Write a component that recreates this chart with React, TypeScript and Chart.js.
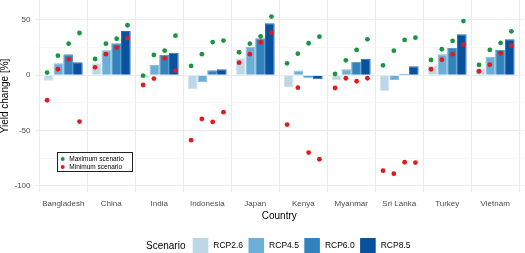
import React, { useEffect, useRef } from "react";
import { Chart, registerables } from "chart.js";

Chart.register(...registerables);

const countries = ["Bangladesh", "China", "India", "Indonesia", "Japan", "Kenya", "Myanmar", "Sri Lanka", "Turkey", "Vietnam"];
const scenarios = ["RCP2.6", "RCP4.5", "RCP6.0", "RCP8.5"];
const yTicks = [-100, -75, -50, -25, 0, 25, 50];

// mean yield change per scenario (bars)
const rcp26 = [-5, 10.8, -2.7, -12.6, 15.3, -10.6, -4.2, -14.2, 8.4, 6];
const rcp45 = [10.8, 22.6, 9.3, -6.3, 25.6, 4.2, 5.4, -4.2, 19, 16.8];
const rcp60 = [19, 28.9, 18.3, 4.5, 33.4, -2.2, 12.3, 1.2, 24.7, 22.9];
const rcp85 = [11.7, 40, 20.4, 5.4, 47, -3.6, 15, 8.1, 37, 32.5];

// maximum scenario per RCP
const max26 = [2.4, 14.7, -0.3, 8.4, 20.8, 10.8, 1.2, 9, 13.8, 9.3];
const max45 = [17.7, 28.5, 18.3, 19, 28.5, 19.5, 13.5, 22.2, 23.5, 22.9];
const max60 = [28.5, 33, 22.2, 30, 35.2, 28.9, 22.9, 31.9, 31, 29.2];
const max85 = [38.2, 45.2, 35.8, 31.3, 53, 34.9, 32.5, 34, 49, 39.7];

// minimum scenario per RCP
const min26 = [-22.6, 7.2, -8.8, -58.7, 11.4, -44.6, -11.5, -86.2, 5.4, 3.6];
const min45 = [5.4, 19, -3, -39.5, 19, -11.2, -2.7, -88.9, 14.1, 9.6];
const min60 = [14.4, 25, 15.3, -42.2, 29.8, -69.9, -5.4, -78.6, 19, 19.9];
const min85 = [-41.9, 33.4, 4.2, -33.4, 38.5, -75.9, -2.7, -78.9, 27.6, 26.7];

const barValues = [rcp26, rcp45, rcp60, rcp85];
const maxValues = [max26, max45, max60, max85];
const minValues = [min26, min45, min60, min85];

const barColors = ["#BDD7E7", "#6BAED6", "#3182BD", "#08519C"];
const barBorders = ["#cfe2ee", "#86bde0", "#5598cb", "#2f6eae"];
const maxColor = "#1a9641";
const minColor = "#e31a1c";
const pointLegend = ["Maximum scenario", "Minimum scenario"];

const FONT = "'Liberation Sans', Arial, sans-serif";

export default function App() {
  const ref = useRef<HTMLCanvasElement | null>(null);

  useEffect(() => {
    if (!ref.current) return;
    const dodge = 0.225;
    const pts = (vals: number[][]) =>
      vals.flatMap((arr, k) => arr.map((v, i) => ({ x: i + (k - 1.5) * dodge, y: v })));

    const decorations = {
      id: "decorations",
      afterDraw(chart: any) {
        const c = chart.ctx;
        const area = chart.chartArea;
        c.save();
        c.fillStyle = "#000";
        c.font = `10px ${FONT}`;
        c.textAlign = "center";
        c.textBaseline = "middle";
        c.save();
        c.translate(5.5, (area.top + area.bottom) / 2);
        c.rotate(-Math.PI / 2);
        c.fillText("Yield change [%]", 0, 0);
        c.restore();
        c.fillText("Country", (area.left + area.right) / 2, 216);
        c.textAlign = "left";
        c.fillText("Scenario", 146, 246);
        c.font = `8.5px ${FONT}`;
        scenarios.forEach((s, k) => {
          const x0 = 192.7 + k * 55.8;
          c.fillStyle = barColors[k];
          c.fillRect(x0, 238, 15.6, 15.6);
          c.fillStyle = "#000";
          c.fillText(s, x0 + 20.6, 246);
        });
        c.fillStyle = "#fff";
        c.fillRect(57.5, 152.5, 75, 19);
        c.strokeStyle = "#222";
        c.lineWidth = 1;
        c.strokeRect(57.5, 152.5, 75, 19);
        c.font = `6.5px ${FONT}`;
        [maxColor, minColor].forEach((col, j) => {
          const yy = 159 + j * 8;
          c.fillStyle = col;
          c.beginPath();
          c.arc(62.7, yy, 2, 0, Math.PI * 2);
          c.fill();
          c.fillStyle = "#000";
          c.fillText(pointLegend[j], 69.3, yy + 0.5);
        });
        c.restore();
      },
    };

    const chart = new Chart(ref.current, {
      type: "bar",
      data: {
        datasets: [
          ...barValues.map((arr, k) => ({
            type: "bar" as const,
            label: scenarios[k],
            data: arr.map((v, i) => ({ x: i, y: v })),
            backgroundColor: barColors[k],
            borderColor: barBorders[k],
            borderWidth: 1,
            categoryPercentage: 0.81,
            barPercentage: 1,
            order: 2,
          })),
          {
            type: "scatter" as const,
            label: pointLegend[1],
            data: pts(minValues),
            backgroundColor: minColor,
            borderWidth: 0,
            pointRadius: 2.4,
            order: 1,
          },
          {
            type: "scatter" as const,
            label: pointLegend[0],
            data: pts(maxValues),
            backgroundColor: maxColor,
            borderWidth: 0,
            pointRadius: 2.4,
            order: 0,
          },
        ] as any,
      },
      options: {
        animation: false,
        responsive: false,
        layout: { autoPadding: false, padding: { top: 0, right: 1, bottom: 38, left: 0 } },
        plugins: { legend: { display: false }, tooltip: { enabled: false } },
        scales: {
          x: {
            type: "linear",
            min: -0.6,
            max: 9.6,
            offset: false,
            afterBuildTicks: (scale: any) => {
              scale.ticks = countries.map((_, i) => ({ value: i }));
            },
            afterFit: (scale: any) => {
              scale.height = 23;
              scale.paddingLeft = 0;
              scale.paddingRight = 0;
              scale.paddingTop = 0;
              scale.paddingBottom = 0;
            },
            ticks: {
              autoSkip: false,
              maxRotation: 0,
              padding: 7,
              color: "#4D4D4D",
              font: { family: FONT, size: 8 },
              callback: (v: any) => countries[Math.round(Number(v))] ?? "",
            },
            grid: { color: "#EBEBEB", lineWidth: 1, drawTicks: false },
            border: { display: false },
          },
          y: {
            type: "linear",
            min: -105.5,
            max: 68,
            afterBuildTicks: (scale: any) => {
              scale.ticks = yTicks.map((v) => ({ value: v }));
            },
            afterFit: (scale: any) => {
              scale.width = 34.5;
              scale.paddingTop = 0;
              scale.paddingBottom = 0;
              scale.paddingLeft = 0;
              scale.paddingRight = 0;
            },
            ticks: {
              padding: 4,
              color: "#4D4D4D",
              font: { family: FONT, size: 8 },
              callback: (v: any) => (Number(v) % 50 === 0 ? String(v) : ""),
            },
            grid: {
              drawTicks: false,
              color: (ctx: any) => (ctx.tick && ctx.tick.value % 50 === 0 ? "#EBEBEB" : "#F3F3F3"),
              lineWidth: (ctx: any) => (ctx.tick && ctx.tick.value % 50 === 0 ? 1 : 0.7),
            },
            border: { display: false },
          },
        },
      },
      plugins: [decorations],
    });
    return () => chart.destroy();
  }, []);

  return (
    <div style={{ position: "fixed", left: 0, top: 0, width: 525, height: 253, background: "#fff" }}>
      <canvas ref={ref} width={525} height={253} style={{ width: 525, height: 253, display: "block" }} />
    </div>
  );
}
